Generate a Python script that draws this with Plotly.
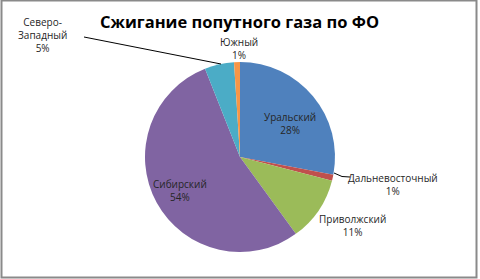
import math
import plotly.graph_objects as go

# Data
regions = ["Уральский", "Дальневосточный", "Приволжский", "Сибирский", "Северо-Западный", "Южный"]
shares = [28, 1, 11, 54, 5, 1]
colors = ["#4F81BD", "#C0504D", "#9BBB59", "#8064A2", "#4BACC6", "#F79646"]
label_text = ["Уральский", "Дальневосточный", "Приволжский", "Сибирский", "Северо-<br>Западный", "Южный"]

W, H = 480, 279
cx, cy, r = 240, 157, 95  # pie centre/radius in px

fig = go.Figure(go.Pie(
    labels=regions, values=shares, sort=False, direction="clockwise", rotation=0,
    marker=dict(colors=colors, line=dict(width=0)),
    textinfo="none", hoverinfo="label+percent", showlegend=False,
    domain=dict(x=[(cx - r) / W, (cx + r) / W], y=[1 - (cy + r) / H, 1 - (cy - r) / H]),
))

# label placement offsets from pie centre (px)
place = {
    "Уральский": (50, -34),
    "Сибирский": (-60, 33),
    "Приволжский": (112, 68),
    "Дальневосточный": (153, 27),
    "Северо-Западный": (-198, -122),
    "Южный": (-1, -109),
}
total = sum(shares)
annotations = []
for name, val, txt in zip(regions, shares, label_text):
    pct = round(val / total * 100)
    dx, dy = place[name]
    annotations.append(dict(
        x=(cx + dx) / W, y=1 - (cy + dy) / H, xref="paper", yref="paper",
        xanchor="center", yanchor="middle",
        text=f"{txt}<br>{pct}%", showarrow=False, align="center",
        font=dict(family="Open Sans, Liberation Sans, sans-serif", size=10, color="#262626"),
    ))

annotations.append(dict(
    x=239 / W, y=1 - 22 / H, xref="paper", yref="paper", xanchor="center", yanchor="middle",
    text="<b>Сжигание попутного газа по ФО</b>",
    showarrow=False, font=dict(family="Open Sans, Liberation Sans, sans-serif", size=16.5, color="#000000"),
))

shapes = [
    dict(type="rect", xref="paper", yref="paper", x0=1.5 / W, x1=476.5 / W, y0=1 - 277.5 / H, y1=1 - 0.5 / H,
         line=dict(color="#8a8a8a", width=2), fillcolor="rgba(0,0,0,0)"),
    # leader lines
    dict(type="line", xref="paper", yref="paper", x0=84 / W, y0=1 - 37 / H, x1=221 / W, y1=1 - 64 / H,
         line=dict(color="#000000", width=1)),
    dict(type="path", xref="paper", yref="paper",
         path=f"M {334/W} {1-173/H} Q {342/W} {1-178/H} {350/W} {1-177/H}",
         line=dict(color="#000000", width=1)),
]

fig.update_layout(
    width=W, height=H, margin=dict(l=0, r=0, t=0, b=0),
    paper_bgcolor="white", plot_bgcolor="white",
    annotations=annotations, shapes=shapes,
)
fig.write_html("out.html")
